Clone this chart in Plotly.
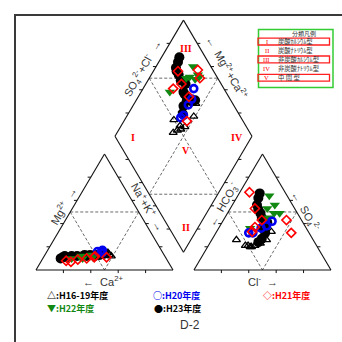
import numpy as np
import plotly.graph_objects as go

### Data (meq %) -------------------------------------------------
# cations: Mg, Na+K (Ca is the rest) ; anions: SO4, Cl (HCO3 is the rest)

h1619_mg  = [12, 13, 12, 13, 14, 13, 13, 15, 12]
h1619_nak = [41, 43, 36, 45, 43, 47, 38, 45, 49]
h1619_so4 = [26, 21, 21, 20, 20, 21, 23, 33, 26]
h1619_cl  = [18, 27, 29, 31, 32, 34, 37, 40, 40]

h20_mg  = [16, 15, 17, 15, 16]
h20_nak = [37, 40, 40, 41, 40]
h20_so4 = [42, 38, 36, 32, 32]
h20_cl  = [36, 34, 31, 27, 24]

h21_mg  = [10, 11, 7, 9, 12, 11, 8]
h21_nak = [32, 37, 22, 26, 37, 46, 18]
h21_so4 = [43, 32, 37, 53, 43, 33, 67]
h21_cl  = [46, 55, 26, 18, 28, 26, 7]

h22_mg  = [11, 10, 12, 11, 10, 13, 12]
h22_nak = [27, 29, 34, 36, 21, 34, 27]
h22_so4 = [64, 53, 49, 56, 36, 49, 45]
h22_cl  = [23, 27, 34, 31, 23, 38, 32]

h23_mg  = [10, 11, 12, 11, 12, 12, 13, 13, 12, 13, 14, 12, 14, 13]
h23_nak = [13, 14, 15, 17, 20, 24, 29, 33, 31, 37, 41, 37, 43, 40]
h23_so4 = [66, 62, 56, 52, 49, 45, 42, 37, 35, 32, 38, 27, 41, 24]
h23_cl  = [15, 16, 18, 21, 24, 27, 32, 32, 34, 36, 33, 36, 33, 35]

types = ["I", "II", "III", "IV", "V"]
type_names = ["炭酸ｶﾙｼｳﾑ型", "炭酸ﾅﾄﾘｳﾑ型", "非炭酸ｶﾙｼｳﾑ型", "非炭酸ﾅﾄﾘｳﾑ型", "中 間 型"]

### Piper geometry ----------------------------------------------
S3 = np.sqrt(3) / 2
GAP = 15.3
OFF = 100 + GAP

def cat_xy(mg, nak):
    mg, nak = np.array(mg, float), np.array(nak, float)
    return nak + mg / 2, mg * S3

def an_xy(so4, cl):
    so4, cl = np.array(so4, float), np.array(cl, float)
    return OFF + cl + so4 / 2, so4 * S3

def dia_xy(nak, so4, cl):
    n = np.array(nak, float)
    a = np.array(so4, float) + np.array(cl, float)
    bx, by = 100 + GAP / 2, GAP * S3
    return bx - (100 - n) / 2 + a / 2, by + (100 - n) * S3 + a * S3

B = (100 + GAP / 2, GAP * S3)
L = (B[0] - 50, B[1] + 100 * S3)
T = (B[0], B[1] + 200 * S3)
R = (B[0] + 50, B[1] + 100 * S3)

def mid(p, q):
    return ((p[0] + q[0]) / 2, (p[1] + q[1]) / 2)

outline_x, outline_y = [], []
def seg(xs, ys, p, q):
    xs += [p[0], q[0], None]
    ys += [p[1], q[1], None]

for x0 in [0, OFF]:
    pts = [(x0, 0), (x0 + 100, 0), (x0 + 50, 100 * S3), (x0, 0)]
    for i in range(3):
        seg(outline_x, outline_y, pts[i], pts[i + 1])
for p, q in [(B, L), (L, T), (T, R), (R, B)]:
    seg(outline_x, outline_y, p, q)

dash_x, dash_y = [], []
for x0 in [0, OFF]:
    lm, rm, bm = (x0 + 25, 50 * S3), (x0 + 75, 50 * S3), (x0 + 50, 0)
    seg(dash_x, dash_y, lm, rm)
    seg(dash_x, dash_y, lm, bm)
    seg(dash_x, dash_y, rm, bm)
seg(dash_x, dash_y, mid(T, L), mid(B, R))
seg(dash_x, dash_y, mid(T, R), mid(B, L))
seg(dash_x, dash_y, mid(T, L), mid(T, R))
seg(dash_x, dash_y, mid(B, L), mid(B, R))

tick_x, tick_y = [], []
TL = 2.3
edges = []
for x0 in [0, OFF]:
    edges += [((x0, 0), (x0 + 50, 100 * S3), -1), ((x0 + 100, 0), (x0 + 50, 100 * S3), 1),
              ((x0, 0), (x0 + 100, 0), 0)]
edges += [(B, L, -1), (L, T, -1), (B, R, 1), (R, T, 1)]
for p, q, d in edges:
    for t in [0.2, 0.4, 0.6, 0.8]:
        px, py = p[0] + (q[0] - p[0]) * t, p[1] + (q[1] - p[1]) * t
        if d == 0:
            seg(tick_x, tick_y, (px, py), (px, py - TL))
        else:
            seg(tick_x, tick_y, (px, py), (px + d * TL, py))

### Figure -------------------------------------------------------
fig = go.Figure()
fig.add_trace(go.Scatter(x=dash_x, y=dash_y, mode='lines',
                         line=dict(color='#444444', width=0.8, dash='3px,2px'), hoverinfo='skip'))
fig.add_trace(go.Scatter(x=outline_x, y=outline_y, mode='lines',
                         line=dict(color='#111111', width=1.1), hoverinfo='skip'))
fig.add_trace(go.Scatter(x=tick_x, y=tick_y, mode='lines',
                         line=dict(color='#111111', width=1), hoverinfo='skip'))

series = [
    ("H23", h23_mg, h23_nak, h23_so4, h23_cl, dict(symbol='circle', size=10, color='black')),
    ("H16-19", h1619_mg, h1619_nak, h1619_so4, h1619_cl,
     dict(symbol='triangle-up-open', size=7, color='black', line=dict(width=1.3, color='black'))),
    ("H22", h22_mg, h22_nak, h22_so4, h22_cl, dict(symbol='triangle-down', size=9, color='#118811')),
    ("H20", h20_mg, h20_nak, h20_so4, h20_cl,
     dict(symbol='circle-open', size=7, color='#0000ee', line=dict(width=2.6, color='#0000ee'))),
    ("H21", h21_mg, h21_nak, h21_so4, h21_cl,
     dict(symbol='diamond-open', size=7, color='#ff0000', line=dict(width=1.6, color='#ff0000'))),
]
for name, mg, nak, so4, cl, mk in series:
    cx, cy = cat_xy(mg, nak)
    ax, ay = an_xy(so4, cl)
    dx, dy = dia_xy(nak, so4, cl)
    fig.add_trace(go.Scatter(x=np.concatenate([cx, ax, dx]), y=np.concatenate([cy, ay, dy]),
                             mode='markers', marker=mk, name=name))

W = 342.0
def P(px, py):
    return dict(x=px / W, y=1 - py / W, xref='paper', yref='paper', showarrow=False,
                xanchor='center', yanchor='middle')

lab_font = dict(family='Liberation Sans, Arial', size=11, color='#333333')
axis_labels = [
    ("Mg<sup>2+</sup>  →", 63, 206, -60),
    ("←  Ca<sup>2+</sup>", 103, 281, 0),
    ("Na<sup>+</sup>+K<sup>+</sup>  →", 148, 207, 60),
    ("←  HCO<sub>3</sub><sup>-</sup>", 223, 205, -60),
    ("←  SO<sub>4</sub><sup>2-</sup>", 305, 211, 60),
    ("Cl<sup>-</sup>  →", 263, 281, 0),
    ("SO<sub>4</sub><sup>2-</sup>+Cl<sup>-</sup>  →", 143, 68, -60),
    ("←  Mg<sup>2+</sup>+Ca<sup>2+</sup>", 227, 67, 60),
]
for txt, px, py, ang in axis_labels:
    fig.add_annotation(text=txt, textangle=ang, font=lab_font, **P(px, py))

num_font = dict(family='Liberation Serif', size=10, color='#ff0000')
for txt, px, py in zip(types, [133, 186, 186, 237, 186], [138, 227, 49, 138, 150]):
    fig.add_annotation(text="<b>%s</b>" % txt, font=num_font, **P(px, py))

# classification legend box
fig.add_shape(type='rect', xref='paper', yref='paper', x0=258.5 / W, x1=333 / W,
              y0=1 - 87.5 / W, y1=1 - 29.5 / W, line=dict(color='#33cc33', width=1.5))
fig.add_annotation(text="分類凡例", font=dict(family='Noto Sans CJK JP', size=6, color='#333333'),
                   **P(304, 33.5))
row_y = [41.6, 50.5, 59.4, 68.5, 77.8]
for i, (num, nm) in enumerate(zip(types, type_names)):
    if i % 2 == 0:
        fig.add_shape(type='rect', xref='paper', yref='paper', x0=258 / W, x1=329.5 / W,
                      y0=1 - (row_y[i] + 3.4) / W, y1=1 - (row_y[i] - 3.4) / W,
                      line=dict(color='#ff2020', width=1.3))
    fig.add_annotation(text=num, font=dict(family='Liberation Serif', size=6.5, color='#ff0000'),
                       **P(266.5, row_y[i]))
    a = P(276, row_y[i])
    a['xanchor'] = 'left'
    fig.add_annotation(text=nm, font=dict(family='Noto Sans CJK JP', size=6.3, color='#333333'), **a)

# year legend
leg_font = dict(family='Noto Sans CJK JP', size=9)
year_leg = [
    ("△:H16-19年度", 45, 295, 'black'),
    ("○:H20年度", 151, 295, '#0000ee'),
    ("◇:H21年度", 261, 295, '#ff0000'),
    ("▼:H22年度", 45, 308, '#118811'),
    ("●:H23年度", 152, 308, 'black'),
]
for txt, px, py, col in year_leg:
    a = P(px, py)
    a['xanchor'] = 'left'
    fig.add_annotation(text="<b>%s</b>" % txt, font=dict(leg_font, color=col), **a)

fig.add_annotation(text="D-2", font=dict(family='Liberation Sans, Arial', size=12, color='#333333'),
                   **P(190, 325))

# outer frame
fig.add_shape(type='rect', xref='paper', yref='paper', x0=15 / W, x1=1.2,
              y0=-0.2, y1=1 - 15 / W, line=dict(color='#3a3a3a', width=2))

PXX, PXY = 1.37, 1.34
fig.update_xaxes(range=[-36 / PXX, (W - 36) / PXX], visible=False, fixedrange=True)
fig.update_yaxes(range=[(270 - W) / PXY, 270 / PXY], visible=False, fixedrange=True)
fig.update_layout(width=342, height=342, margin=dict(l=0, r=0, t=0, b=0),
                  showlegend=False, plot_bgcolor='white', paper_bgcolor='white')

fig.write_html("out.html", config=dict(displayModeBar=False),
               post_script="document.body.style.margin='0';")
